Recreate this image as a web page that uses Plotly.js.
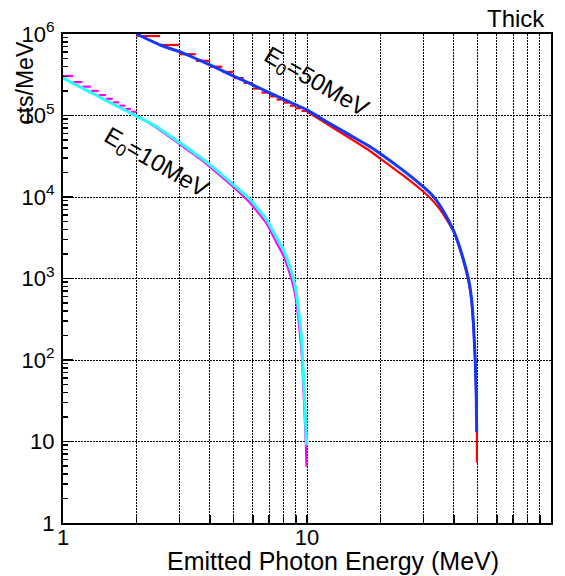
<!DOCTYPE html>
<html>
<head>
<meta charset="utf-8">
<script src="https://cdn.plot.ly/plotly-3.0.1.min.js"></script>
<style>html,body{margin:0;padding:0;background:#fff;}#chart{width:565px;height:576px;}</style>
</head>
<body>
<div id="chart"></div>
<script>
// ---- Data ----
// E0 = 50 MeV, smooth curve (blue)
var blueX = [2, 2.5, 3, 4, 5, 6, 7, 8, 10, 12, 15, 18, 20, 25, 30, 33, 36, 40, 43, 46, 47.3, 48.1, 48.9, 49.4, 49.6];
var blueY = [1.0e6, 7.33e5, 6.07e5, 4.17e5, 3.05e5, 2.37e5, 1.91e5, 1.59e5, 1.17e5, 8.45e4, 5.74e4, 4.19e4, 3.40e4, 2.08e4, 1.33e4, 1.01e4, 6.92e3, 3.78e3, 2.04e3, 955, 545, 282, 100, 35, 13];
// E0 = 50 MeV, histogram (red): bins of 0.5 MeV from 2 to 10 MeV (left edges + values)
var redBinX = [2, 2.5, 3, 3.5, 4, 4.5, 5, 5.5, 6, 6.5, 7, 7.5, 8, 8.5, 9, 9.5, 10];
var redBinY = [9.44e5, 7.33e5, 5.65e5, 4.69e5, 3.97e5, 3.42e5, 2.88e5, 2.51e5, 2.14e5, 1.91e5, 1.72e5, 1.57e5, 1.44e5, 1.32e5, 1.23e5, 1.14e5];
// E0 = 50 MeV, histogram above 10 MeV (bins too fine to resolve)
var redX = [10, 12, 15, 18, 20, 25, 30, 33, 36, 40, 43, 46, 47.3, 48.1, 48.9, 49.4, 49.7, 49.7];
var redY = [1.12e5, 7.94e4, 5.25e4, 3.72e4, 2.95e4, 1.80e4, 1.16e4, 8.8e3, 6.31e3, 3.70e3, 1.95e3, 891, 501, 251, 100, 31.6, 13, 5.5];
// E0 = 10 MeV, smooth curve (cyan)
var cyanX = [1.0, 1.1, 1.2, 1.35, 1.5, 1.75, 2.0, 2.42, 3.0, 3.64, 4.0, 5.0, 5.84, 6.84, 7.5, 8.0, 8.5, 8.8, 9.0, 9.3, 9.5, 9.6, 9.75, 9.9, 9.97];
var cyanY = [2.88e5, 2.48e5, 2.17e5, 1.81e5, 1.53e5, 1.21e5, 9.82e4, 7.29e4, 4.66e4, 3.09e4, 2.48e4, 1.41e4, 9.33e3, 5.25e3, 3.16e3, 2.24e3, 1.39e3, 1.0e3, 724, 339, 178, 100, 39.8, 14.1, 8.9];
// E0 = 10 MeV, histogram (magenta): bins of 0.1 MeV from 1 to 2 MeV
var magBinX = [1.0, 1.1, 1.2, 1.3, 1.4, 1.5, 1.6, 1.7, 1.8, 1.9, 2.0];
var magBinY = [3.05e5, 2.57e5, 2.26e5, 2.0e5, 1.78e5, 1.60e5, 1.45e5, 1.32e5, 1.20e5, 1.11e5];
var magX = [2.0, 2.42, 3.0, 3.64, 4.0, 5.0, 5.84, 6.84, 7.5, 8.0, 8.5, 8.8, 9.0, 9.3, 9.5, 9.6, 9.75, 9.9, 9.95];
var magY = [1.0e5, 7.08e4, 4.47e4, 2.95e4, 2.34e4, 1.32e4, 8.51e3, 4.68e3, 2.75e3, 1.91e3, 1.15e3, 794, 562, 251, 126, 70.8, 25.1, 8.9, 4.9];

// ---- Tick labels ----
var xMajor = [1, 10, 100];
var xMajorText = ['1', '10', '100'];
var yTickVals = [1, 10, 100, 1000, 10000, 100000, 1000000];
var yTickText = ['1', '10', '10<sup>2</sup>', '10<sup>3</sup>', '10<sup>4</sup>', '10<sup>5</sup>', '10<sup>6</sup>'];

// x ticks at every 1..9 multiple (gridlines there too), labels only at decades
var xTickVals = [], xTickText = [];
for (var d = 0; d < 2; d++) {
  for (var m = 1; m < 10; m++) {
    var v = m * Math.pow(10, d);
    xTickVals.push(v);
    var idx = xMajor.indexOf(v);
    xTickText.push(idx >= 0 ? xMajorText[idx] : '');
  }
}
xTickVals.push(100); xTickText.push('100');
var yMinor = [];
for (var e = 0; e < 6; e++) for (var k = 2; k < 10; k++) yMinor.push(k * Math.pow(10, e));

// histogram bins drawn as horizontal bars only (as in the reference)
function binSegments(edges, vals) {
  var xs = [], ys = [];
  for (var i = 0; i < vals.length; i++) {
    xs.push(edges[i], edges[i + 1], null);
    ys.push(vals[i], vals[i], null);
  }
  return {x: xs, y: ys};
}
var redSeg = binSegments(redBinX, redBinY);
var magSeg = binSegments(magBinX, magBinY);

var FONT = 'Liberation Sans, Arial, Helvetica, sans-serif';

var traces = [
  {x: redSeg.x, y: redSeg.y, mode: 'lines', connectgaps: false, line: {color: '#ff0000', width: 2.2}, hoverinfo: 'skip'},
  {x: redX, y: redY, mode: 'lines', line: {color: '#ff0000', width: 2.2, shape: 'spline', smoothing: 0.4}, hoverinfo: 'skip'},
  {x: blueX, y: blueY, mode: 'lines', line: {color: '#1038ff', width: 3, shape: 'spline', smoothing: 0.5}, hoverinfo: 'skip'},
  {x: magSeg.x, y: magSeg.y, mode: 'lines', connectgaps: false, line: {color: '#ff00ff', width: 2.2}, hoverinfo: 'skip'},
  {x: magX, y: magY, mode: 'lines', line: {color: '#ff00ff', width: 2.2, shape: 'spline', smoothing: 0.4}, hoverinfo: 'skip'},
  {x: cyanX, y: cyanY, mode: 'lines', line: {color: '#22ffff', width: 3, shape: 'spline', smoothing: 0.5}, hoverinfo: 'skip'}
];

var layout = {
  width: 565, height: 576,
  margin: {l: 63, r: 14, t: 34, b: 53, pad: 0},
  paper_bgcolor: '#ffffff', plot_bgcolor: '#ffffff',
  showlegend: false,
  font: {family: FONT, color: '#000'},
  xaxis: {
    type: 'log', range: [0, 2], autorange: false,
    tickmode: 'array', tickvals: xTickVals, ticktext: xTickText,
    ticks: 'inside', ticklen: 8, tickwidth: 1.5, tickcolor: '#000',
    ticklabelstandoff: -6,
    showgrid: true, gridcolor: '#000', gridwidth: 1, griddash: '2px,1px',
    showline: true, linecolor: '#000', linewidth: 2, mirror: true,
    zeroline: false, tickfont: {family: FONT, size: 22, color: '#000'},
    automargin: false
  },
  yaxis: {
    type: 'log', range: [0, 6], autorange: false,
    tickmode: 'array', tickvals: yTickVals, ticktext: yTickText,
    ticks: 'inside', ticklen: 10, tickwidth: 1.5, tickcolor: '#000',
    ticklabelstandoff: 2,
    minor: {tickmode: 'array', tickvals: yMinor, ticks: 'inside', ticklen: 5, tickwidth: 1.5, tickcolor: '#000', showgrid: false},
    showgrid: true, gridcolor: '#000', gridwidth: 1, griddash: '2px,1px',
    showline: true, linecolor: '#000', linewidth: 2, mirror: true,
    zeroline: false, tickfont: {family: FONT, size: 22, color: '#000'},
    automargin: false
  },
  annotations: [
    {xref: 'paper', yref: 'paper', x: 0.553, y: -0.077, text: 'Emitted Photon Energy (MeV)', showarrow: false,
     xanchor: 'center', yanchor: 'middle', font: {family: FONT, size: 25, color: '#000'}},
    {xref: 'paper', yref: 'paper', x: -0.078, y: 0.90, text: 'cts/MeV', showarrow: false, textangle: -90,
     xanchor: 'center', yanchor: 'middle', font: {family: FONT, size: 23, color: '#000'}},
    {xref: 'paper', yref: 'paper', x: 0.992, y: 1.032, text: 'Thick', showarrow: false,
     xanchor: 'right', yanchor: 'middle', font: {family: FONT, size: 24, color: '#000'}},
    {xref: 'x', yref: 'y', x: 1.033, y: 5.40, text: 'E<sub>0</sub>=50MeV', showarrow: false, textangle: 30,
     xanchor: 'center', yanchor: 'middle', font: {family: FONT, size: 24, color: '#000'}},
    {xref: 'x', yref: 'y', x: 0.38, y: 4.41, text: 'E<sub>0</sub>=10MeV', showarrow: false, textangle: 30,
     xanchor: 'center', yanchor: 'middle', font: {family: FONT, size: 24, color: '#000'}}
  ]
};

Plotly.newPlot('chart', traces, layout, {staticPlot: true, displayModeBar: false});
</script>
</body>
</html>
